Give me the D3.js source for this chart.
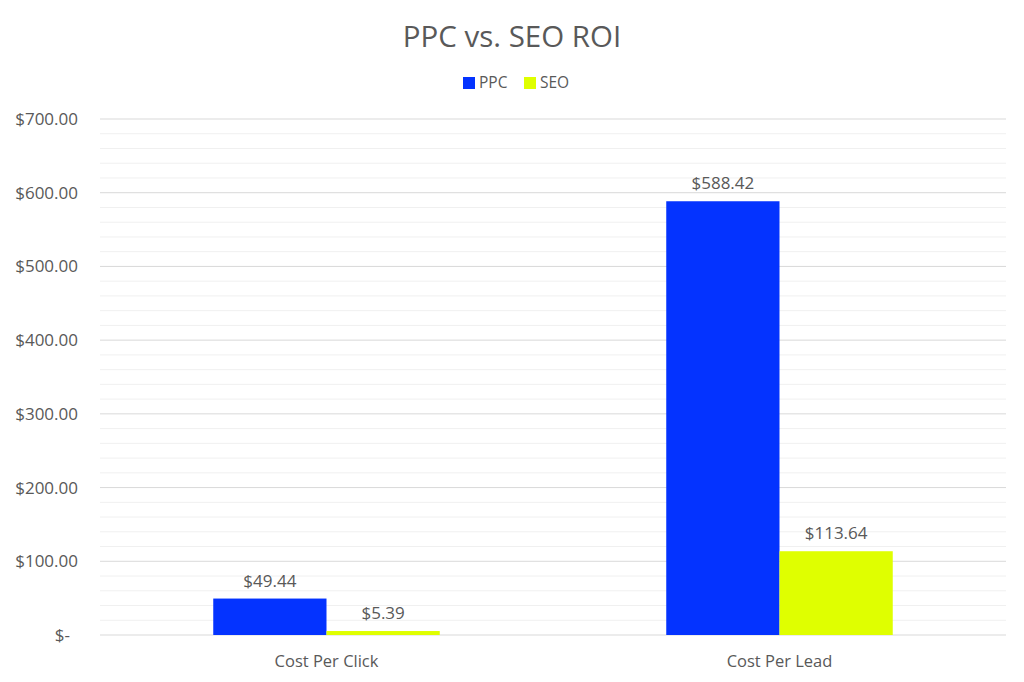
<!DOCTYPE html>
<html>
<head>
<meta charset="utf-8">
<script src="https://cdn.jsdelivr.net/npm/d3@7"></script>
<style>
  body { margin: 0; background: #fff; }
  text { font-family: "Open Sans", "Noto Sans", sans-serif; fill: #595959; }
</style>
</head>
<body>
<div id="chart"></div>
<script>
// Chart data
const categories = ["Cost Per Click", "Cost Per Lead"];
const seriesNames = ["PPC", "SEO"];
const ppcValues = [49.44, 588.42];
const seoValues = [5.39, 113.64];
const yTicks = [0, 100, 200, 300, 400, 500, 600, 700];
const colors = ["#0433ff", "#dfff00"];

// Dimensions
const width = 1024, height = 682;
const margin = {top: 119, right: 18, bottom: 47, left: 100};
const innerW = width - margin.left - margin.right;
const innerH = height - margin.top - margin.bottom;

const svg = d3.select("#chart").append("svg")
    .attr("width", width)
    .attr("height", height);

const g = svg.append("g")
    .attr("transform", `translate(${margin.left},${margin.top})`);

// Scales
const x = d3.scaleBand().domain(categories).range([0, innerW]);
const xInner = d3.scaleBand().domain(seriesNames)
    .range([x.bandwidth() / 4, x.bandwidth() * 3 / 4]);
const y = d3.scaleLinear().domain([0, 700]).range([innerH, 0]);

// Minor gridlines every 20
g.append("g")
    .selectAll("line")
    .data(d3.range(20, 700, 20).filter(v => v % 100 !== 0))
    .enter().append("line")
    .attr("x1", 0).attr("x2", innerW)
    .attr("y1", d => y(d)).attr("y2", d => y(d))
    .attr("stroke", "#f0f0f0")
    .attr("stroke-width", 1);

// Major gridlines
g.append("g")
    .selectAll("line")
    .data(yTicks)
    .enter().append("line")
    .attr("x1", 0).attr("x2", innerW)
    .attr("y1", d => y(d)).attr("y2", d => y(d))
    .attr("stroke", "#d9d9d9")
    .attr("stroke-width", 1);

// Y axis labels
g.append("g")
    .selectAll("text")
    .data(yTicks)
    .enter().append("text")
    .attr("x", d => d === 0 ? -30 : -22)
    .attr("y", d => y(d))
    .attr("dy", "0.35em")
    .attr("text-anchor", "end")
    .style("font-size", "17px")
    .text(d => d === 0 ? "$-" : "$" + d3.format(".2f")(d));

// Bars
const rows = categories.map((c, i) => ({cat: c, values: [ppcValues[i], seoValues[i]]}));

const groups = g.selectAll(".cat")
    .data(rows)
    .enter().append("g")
    .attr("class", "cat")
    .attr("transform", d => `translate(${x(d.cat)},0)`);

groups.selectAll("rect")
    .data(d => d.values.map((v, i) => ({name: seriesNames[i], value: v, i: i})))
    .enter().append("rect")
    .attr("x", d => xInner(d.name))
    .attr("y", d => y(d.value))
    .attr("width", xInner.bandwidth())
    .attr("height", d => innerH - y(d.value))
    .attr("fill", d => colors[d.i]);

// Value labels
groups.selectAll(".val")
    .data(d => d.values.map((v, i) => ({name: seriesNames[i], value: v})))
    .enter().append("text")
    .attr("class", "val")
    .attr("x", d => xInner(d.name) + xInner.bandwidth() / 2)
    .attr("y", d => y(d.value) - 12)
    .attr("text-anchor", "middle")
    .style("font-size", "17px")
    .text(d => "$" + d3.format(".2f")(d.value));

// Category labels
g.append("g")
    .selectAll("text")
    .data(categories)
    .enter().append("text")
    .attr("x", d => x(d) + x.bandwidth() / 2)
    .attr("y", innerH + 26)
    .attr("dy", "0.35em")
    .attr("text-anchor", "middle")
    .style("font-size", "16.5px")
    .text(d => d);

// Title
svg.append("text")
    .attr("x", width / 2)
    .attr("y", 37)
    .attr("dy", "0.35em")
    .attr("text-anchor", "middle")
    .style("font-size", "29.5px")
    .text("PPC vs. SEO ROI");

// Legend
const legendX = [463, 524];
const legend = svg.selectAll(".legend")
    .data(seriesNames)
    .enter().append("g")
    .attr("class", "legend")
    .attr("transform", (d, i) => `translate(${legendX[i]},83)`);

legend.append("rect")
    .attr("x", 0).attr("y", -6)
    .attr("width", 12).attr("height", 12)
    .attr("fill", (d, i) => colors[i]);

legend.append("text")
    .attr("x", 16)
    .attr("y", 0)
    .attr("dy", "0.35em")
    .style("font-size", "15.5px")
    .text(d => d);
</script>
</body>
</html>
